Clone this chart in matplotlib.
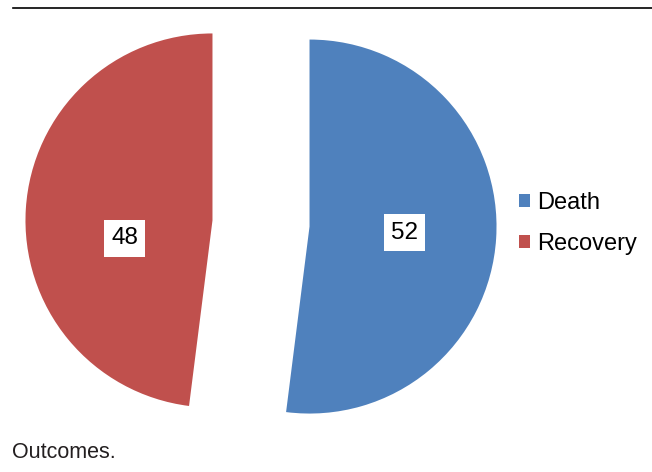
import numpy as np
import matplotlib.pyplot as plt
from matplotlib.patches import Patch
from matplotlib.lines import Line2D

# ---- data ----
labels = ["Death", "Recovery"]
values = [52, 48]
colors = ["#4F81BD", "#C0504D"]
caption = "Outcomes."

plt.rcParams["font.family"] = ["Liberation Sans", "DejaVu Sans"]

W, H = 652, 472
fig = plt.figure(figsize=(W / 100, H / 100), dpi=100)

# pie axes: radius ~187 px, centre of un-exploded pie at (261, 223.5) px
R = 187.0
cx, cy = 261.0, 223.5
lim_x, lim_y = 1.3, 1.15
ax = fig.add_axes([(cx - lim_x * R) / W, (H - cy - lim_y * R) / H,
                   2 * lim_x * R / W, 2 * lim_y * R / H])

explode = [0.26, 0.26]
wedges, texts, autotexts = ax.pie(
    values, colors=colors, startangle=90, counterclock=False,
    explode=explode, radius=1.0,
    autopct=lambda p: f"{round(p):.0f}", pctdistance=0.51,
    wedgeprops=dict(linewidth=0),
    textprops=dict(fontsize=17.5, color="black"),
)
for t in autotexts:
    t.set_bbox(dict(boxstyle="square,pad=0.3", facecolor="white", edgecolor="none"))

# label of the second slice sits a bit lower (best-fit placement)
w = wedges[1]
ang = np.deg2rad(191.5)
autotexts[1].set_position((w.center[0] + 0.48 * np.cos(ang), w.center[1] + 0.48 * np.sin(ang)))

ax.set_xlim(-lim_x, lim_x)
ax.set_ylim(-lim_y, lim_y)
ax.set_aspect("equal")
ax.axis("off")

# legend
handles = [Patch(facecolor=c, edgecolor="none", label=l) for c, l in zip(colors, labels)]
fig.legend(handles=handles, loc="center left", bbox_to_anchor=(519 / W, 1 - 223.5 / H),
           frameon=False, fontsize=17, handlelength=0.47, handleheight=0.47,
           handletextpad=0.3, labelspacing=0.8, borderpad=0, borderaxespad=0)

# top rule and caption
fig.add_artist(Line2D([13 / W, 1.0], [1 - 8 / H, 1 - 8 / H], color="black", lw=1.2))
fig.text(12 / W, 1 - 452 / H, caption, fontsize=15.5, color="#231f20",
         ha="left", va="center")

fig.savefig("out.png", dpi=100)
